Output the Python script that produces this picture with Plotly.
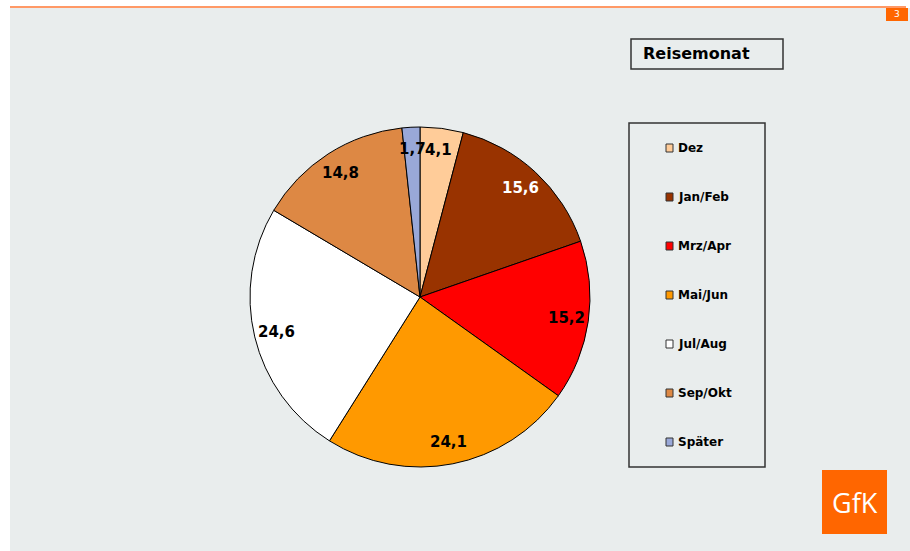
import math
import plotly.graph_objects as go

labels = ["Dez", "Jan/Feb", "Mrz/Apr", "Mai/Jun", "Jul/Aug", "Sep/Okt", "Später"]
values = [4.1, 15.6, 15.2, 24.1, 24.6, 14.8, 1.7]
colors = ["#FFCC99", "#993300", "#FF0000", "#FF9900", "#FFFFFF", "#DD8844", "#99A8D8"]
text_colors = ["black", "white", "black", "black", "black", "black", "black"]

W, H = 910, 551
FONT = "DejaVu Sans"
BG = "#E9EDED"
ORANGE = "#FF6600"

# pie geometry in pixels (top-down)
cx, cy, r = 420, 297, 170


def px_x(x):
    return x / W


def px_y(y):
    return 1 - y / H


def label(x, y, text, size, color="black", family=FONT, xanchor="center"):
    fig.add_annotation(
        x=px_x(x), y=px_y(y), xref="paper", yref="paper",
        text=text, showarrow=False, xanchor=xanchor, yanchor="middle",
        font=dict(family=family, size=size, color=color),
    )


fig = go.Figure()
fig.add_trace(go.Pie(
    labels=labels,
    values=values,
    sort=False,
    direction="clockwise",
    rotation=0,
    marker=dict(colors=colors, line=dict(color="black", width=1)),
    textinfo="none",
    hoverinfo="label+value",
    domain=dict(x=[px_x(cx - r), px_x(cx + r)], y=[px_y(cy + r), px_y(cy - r)]),
    showlegend=False,
))

# value labels at ~0.87 of the radius, centred on each slice
total = sum(values)
cum = 0
for v, tc in zip(values, text_colors):
    mid = (cum + v / 2) / total * 2 * math.pi
    cum += v
    x = cx + 0.87 * r * math.sin(mid)
    y = cy - 0.87 * r * math.cos(mid)
    label(x, y, "<b>" + f"{v:.1f}".replace(".", ",") + "</b>", 15, tc)

shapes = [
    # grey panel
    dict(type="rect", x0=px_x(10), x1=1, y0=0, y1=px_y(8),
         fillcolor=BG, line=dict(width=0), layer="below"),
    # orange top line
    dict(type="line", x0=px_x(10), x1=px_x(906), y0=px_y(7), y1=px_y(7),
         line=dict(color="#FF9966", width=2)),
    # page number box
    dict(type="rect", x0=px_x(886), x1=px_x(908), y0=px_y(21), y1=px_y(8),
         fillcolor=ORANGE, line=dict(width=0)),
    # title box
    dict(type="rect", x0=px_x(631), x1=px_x(783), y0=px_y(69), y1=px_y(39),
         line=dict(color="#333333", width=1.5)),
    # legend box
    dict(type="rect", x0=px_x(629), x1=px_x(765), y0=px_y(467), y1=px_y(123),
         line=dict(color="#333333", width=1.5)),
    # GfK logo
    dict(type="rect", x0=px_x(822), x1=px_x(887), y0=px_y(534), y1=px_y(470),
         fillcolor=ORANGE, line=dict(width=0)),
]

# manual legend
for i, (lab, col) in enumerate(zip(labels, colors)):
    y = 148 + i * 49
    shapes.append(dict(type="rect", x0=px_x(666), x1=px_x(673), y0=px_y(y + 4), y1=px_y(y - 4),
                       fillcolor=col, line=dict(color="#333333", width=1)))
    label(676, y, "<b>" + lab + "</b>", 12, xanchor="left")

label(641, 54, "<b>Reisemonat</b>", 16, xanchor="left")
label(897, 14.5, "3", 9, "white")
label(854.5, 502, "GfK", 27, "white", family="Open Sans")

fig.update_layout(
    width=W, height=H,
    margin=dict(l=0, r=0, t=0, b=0),
    paper_bgcolor="white",
    plot_bgcolor="white",
    shapes=shapes,
)

fig.write_html("out.html", config={"displayModeBar": False},
               post_script="document.body.style.margin='0';")
